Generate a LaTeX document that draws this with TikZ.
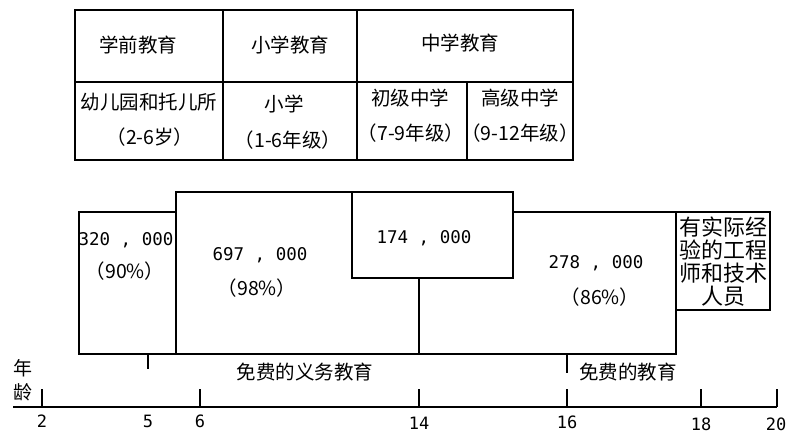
\documentclass[tikz,border=0pt]{standalone}
\usepackage{fontspec}
\setmainfont{Noto Sans CJK SC}
\newfontfamily\digitfont{DejaVu Sans Mono}
\usepackage{tikz}

\begin{document}
\begin{tikzpicture}[x=1pt,y=-1pt,line width=1.3pt,
  txt/.style={inner sep=0pt,font=\fontsize{19.5}{21}\selectfont},
  fig/.style={inner sep=0pt,font=\digitfont\fontsize{17.5}{20}\selectfont},
  num/.style={inner sep=0pt,font=\digitfont\fontsize{17}{19}\selectfont}]
\useasboundingbox (0,0) rectangle (788,434);
% table of school stages
\draw (75,10) rectangle (573,160);
\draw (75,82) -- (573,82);
\draw (223,10) -- (223,160);
\draw (357,10) -- (357,160);
\draw (467,82) -- (467,160);
\node[txt] (pre) at (138,45) {学前教育};
\node[txt] (pri) at (290,45) {小学教育};
\node[txt] (sec) at (460,43) {中学教育};
\node[txt] (kg) at (149,102) {幼儿园和托儿所};
\node[txt] (kgage) at (150,137) {（2-6岁）};
\node[txt] (ps) at (284,104) {小学};
\node[txt] (psage) at (288,140) {（1-6年级）};
\node[txt] (jh) at (410,98) {初级中学};
\node[txt] (jhage) at (411,133) {（7-9年级）};
\node[txt] (sh) at (520,98) {高级中学};
\node[txt] (shage) at (520,133) {（9-12年级）};
% enrolment boxes
\draw (79,212) rectangle (176,354);
\draw (176,354) -- (176,192) -- (513,192) -- (513,212) -- (676,212) -- (676,354) -- cycle;
\draw (352,192) rectangle (513,278);
\draw (419,278) -- (419,354);
\draw (676,212) rectangle (770,310);
\node[fig] (n320) at (126,240) {320 , 000};
\node[txt] (p90) at (125,271) {（90\%）};
\node[fig] (n697) at (260,255) {697 , 000};
\node[txt] (p98) at (257,288) {（98\%）};
\node[fig] (n174) at (424,238) {174 , 000};
\node[fig] (n278) at (596,263) {278 , 000};
\node[txt] (p86) at (600,297) {（86\%）};
\node[inner sep=0pt,align=center,font=\fontsize{22}{23}\selectfont] (eng) at (723,262) {有实际经\\验的工程\\师和技术\\人员};
% free education marks
\draw (148,354) -- (148,369);
\draw (567,354) -- (567,373);
\node[txt] (free1) at (305,372) {免费的义务教育};
\node[txt] (free2) at (628,372) {免费的教育};
% age axis
\node[inner sep=0pt,align=center,font=\fontsize{19}{24}\selectfont] (age) at (23,380) {年\\龄};
\draw (13,407) -- (777,407);
\foreach \x/\a/\y in {42/2/421,148/5/421,200/6/421,419/14/423,567/16/422,701/18/424,776/20/424}
  \node[num] (lab\a) at (\x,\y) {\a};
\foreach \x in {42,200,419,567,701,777}
  \draw (\x,389) -- (\x,407);
\end{tikzpicture}
\end{document}
